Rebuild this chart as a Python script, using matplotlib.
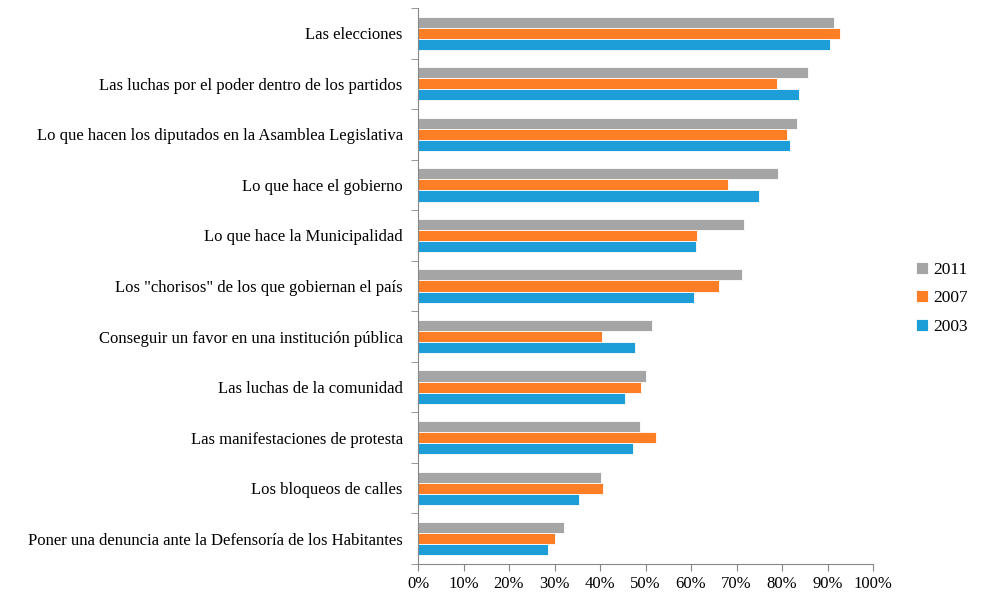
import numpy as np
import matplotlib.pyplot as plt
from matplotlib.ticker import FuncFormatter, MultipleLocator

plt.rcParams['font.family'] = ['Liberation Serif', 'DejaVu Serif']

categorias = [
    'Las elecciones',
    'Las luchas por el poder dentro de los partidos',
    'Lo que hacen los diputados en la Asamblea Legislativa',
    'Lo que hace el gobierno',
    'Lo que hace la Municipalidad',
    'Los "chorisos" de los que gobiernan el país',
    'Conseguir un favor en una institución pública',
    'Las luchas de la comunidad',
    'Las manifestaciones de protesta',
    'Los bloqueos de calles',
    'Poner una denuncia ante la Defensoría de los Habitantes',
]
v2011 = [91.5, 85.7, 83.4, 79.1, 71.6, 71.1, 51.4, 50.2, 48.8, 40.2, 32.1]
v2007 = [92.7, 78.8, 81.0, 68.1, 61.4, 66.2, 40.4, 49.0, 52.4, 40.7, 30.2]
v2003 = [90.5, 83.7, 81.8, 74.9, 61.1, 60.7, 47.6, 45.4, 47.3, 35.3, 28.6]

series = [('2011', v2011, '#a5a5a5'), ('2007', v2007, '#fe7e26'), ('2003', v2003, '#1e9ed8')]

fig = plt.figure(figsize=(9.89, 5.95), dpi=100)
ax = fig.add_axes([418 / 989, 31 / 595, 455 / 989, 556 / 595])

y = np.arange(len(categorias))
h = 0.22
for i, (nombre, vals, color) in enumerate(series):
    ax.barh(y + (i - 1) * h, vals, height=h, color=color, label=nombre,
            edgecolor='white', linewidth=0.6)

ax.set_xlim(0, 100)
ax.set_ylim(len(categorias) - 0.5, -0.5)
ax.xaxis.set_major_locator(MultipleLocator(10))
ax.xaxis.set_major_formatter(FuncFormatter(lambda v, p: f'{v:.0f}%'))
ax.set_yticks(y)
ax.set_yticklabels(categorias)
ax.set_yticks(np.arange(len(categorias) + 1) - 0.5, minor=True)
ax.tick_params(axis='y', which='major', length=0, pad=11, labelsize=12)
ax.tick_params(axis='y', which='minor', length=5, direction='out', color='#868686')
ax.tick_params(axis='x', length=5, direction='out', color='#868686', labelsize=12, pad=4)

for lado in ['top', 'right']:
    ax.spines[lado].set_visible(False)
for lado in ['left', 'bottom']:
    ax.spines[lado].set_color('#868686')

ax.legend(loc='center left', bbox_to_anchor=(1.06, 0.478), frameon=False, fontsize=12.5,
          handlelength=0.7, handleheight=0.7, handletextpad=0.3, labelspacing=0.72)

fig.savefig('out.png', dpi=100)
